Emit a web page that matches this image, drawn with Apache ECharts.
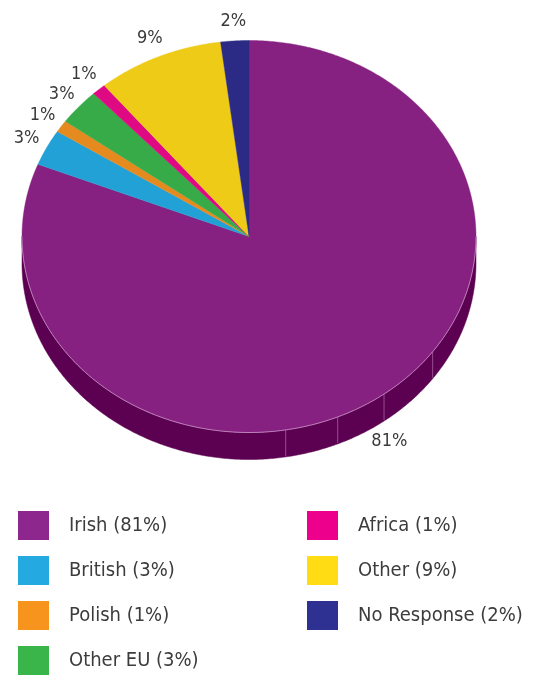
<!DOCTYPE html>
<html>
<head>
<meta charset="utf-8">
<script src="https://cdn.jsdelivr.net/npm/echarts@6/dist/echarts.min.js"></script>
<style>
  html, body { margin: 0; padding: 0; background: #ffffff; }
  #chart { width: 537px; height: 675px; }
</style>
</head>
<body>
<div id="chart"></div>
<script>
// Nationality breakdown, percentages of respondents
const categories = ['Irish', 'British', 'Polish', 'Other EU', 'Africa', 'Other', 'No Response'];
const shares = [81, 3, 1, 3, 1, 9, 2];

// Slice colours: lit top face, shaded rim, legend swatch
const topColors = ['#862181', '#22a1d6', '#e58a1f', '#36ab47', '#df0a83', '#eecb17', '#2b2a84'];
const sideColors = ['#5c0052', '#16709a', '#a55f12', '#23782f', '#9c055b', '#a88f0d', '#1b1a5c'];
const legendColors = ['#8e278d', '#24a9e1', '#f7941d', '#39b54a', '#ec008c', '#ffdc14', '#2e3192'];

// Angles (clockwise from 12 o'clock) where the rim shows a facet seam
const rimSeams = [126, 143.5, 157, 170.7];

const FONT = '"DejaVu Sans Condensed", "DejaVu Sans", sans-serif';

const chart = echarts.init(document.getElementById('chart'), null, { renderer: 'canvas' });

// Tilted pie geometry
const CX = 249, CY = 236.5, RX = 227, RY = 196, DEPTH = 27;
const total = shares.reduce((a, b) => a + b, 0);
const starts = [];
shares.reduce((acc, v, i) => { starts[i] = acc; return acc + v; }, 0);

function pt(deg, dy) {
  const t = deg * Math.PI / 180;
  return [CX + RX * Math.sin(t), CY - RY * Math.cos(t) + (dy || 0)];
}
function arc(a, b, dy) {
  const pts = [];
  const n = Math.max(2, Math.ceil((b - a) / 0.5));
  for (let k = 0; k <= n; k++) pts.push(pt(a + (b - a) * k / n, dy));
  return pts;
}

function makeRender(idx) {
  return function () {
    const a = starts[idx] / total * 360;
    const b = (starts[idx] + shares[idx]) / total * 360;
    const children = [];

    // Rim (front half only: 90°..270°)
    const sa = Math.max(a, 90), sb = Math.min(b, 270);
    if (sb > sa) {
      const upper = arc(sa, sb, 0);
      const lower = arc(sa, sb, DEPTH).reverse();
      children.push({
        type: 'polygon', z2: 1,
        shape: { points: upper.concat(lower) },
        style: { fill: sideColors[idx], stroke: sideColors[idx], lineWidth: 0.5 }
      });
      rimSeams.forEach(s => {
        if (s > sa && s < sb) {
          const p = pt(s, 0);
          children.push({
            type: 'line', z2: 2,
            shape: { x1: p[0], y1: p[1], x2: p[0], y2: p[1] + DEPTH - 1 },
            style: { stroke: 'rgba(200,140,195,0.55)', lineWidth: 1 }
          });
        }
      });
      children.push({
        type: 'polyline', z2: 4,
        shape: { points: upper },
        style: { stroke: 'rgba(205,150,200,0.8)', lineWidth: 1, fill: null }
      });
    }

    // Top face
    children.push({
      type: 'polygon', z2: 3,
      shape: { points: [[CX, CY]].concat(arc(a, b, 0)) },
      style: { fill: topColors[idx], stroke: topColors[idx], lineWidth: 0.4 }
    });

    // Value label just outside the rim
    const m = (a + b) / 2;
    const t = m * Math.PI / 180;
    const lx = CX + 1.1 * RX * Math.sin(t);
    const ly = CY - 1.1 * RY * Math.cos(t) + (Math.cos(t) < 0 ? DEPTH : 0);
    children.push({
      type: 'text', z2: 5,
      style: {
        x: lx, y: ly, text: shares[idx] + '%',
        align: 'center', verticalAlign: 'middle',
        fill: '#3a3a3a', font: '18px ' + FONT
      }
    });

    return { type: 'group', children: children };
  };
}

const series = categories.map((name, i) => ({
  type: 'custom',
  name: name,
  coordinateSystem: 'none',
  silent: true,
  animation: false,
  itemStyle: { color: legendColors[i] },
  data: [shares[i]],
  renderItem: makeRender(i)
}));

const legendBase = {
  orient: 'vertical',
  icon: 'rect',
  itemWidth: 31,
  itemHeight: 29,
  itemGap: 16,
  padding: 0,
  height: 200,
  selectedMode: false,
  top: 511,
  formatter: name => name + ' (' + shares[categories.indexOf(name)] + '%)',
  textStyle: { fontFamily: FONT, fontSize: 20, color: '#3c3c3c', padding: [0, 0, 0, 15] }
};

chart.setOption({
  animation: false,
  legend: [
    Object.assign({}, legendBase, { left: 18, data: categories.slice(0, 4) }),
    Object.assign({}, legendBase, { left: 307, data: categories.slice(4) })
  ],
  series: series
});
</script>
</body>
</html>
